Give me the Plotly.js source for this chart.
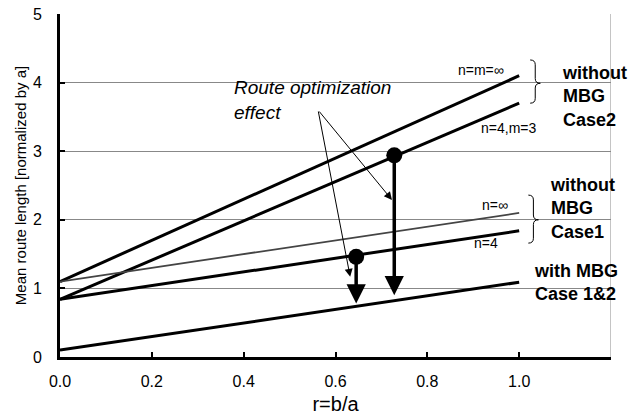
<!DOCTYPE html>
<html>
<head>
<meta charset="utf-8">
<script src="https://cdn.plot.ly/plotly-3.0.1.min.js"></script>
<style>html,body{margin:0;padding:0;background:#fff;}#chart{width:637px;height:417px;}</style>
</head>
<body>
<div id="chart"></div>
<script>
// ---- data ----
const rValues = [0, 0.2, 0.4, 0.6, 0.8, 1.0];
const case2Inf = [1.10, 1.70, 2.30, 2.90, 3.50, 4.10];   // n=m=∞
const case2N4M3 = [0.84, 1.41, 1.98, 2.56, 3.13, 3.70];  // n=4,m=3
const case1Inf = [1.10, 1.30, 1.50, 1.70, 1.90, 2.10];   // n=∞
const case1N4 = [0.84, 1.04, 1.24, 1.44, 1.64, 1.84];    // n=4
const withMBG = [0.10, 0.30, 0.50, 0.69, 0.89, 1.09];    // with MBG Case 1&2

const dotR = [0.728, 0.645];
const dotLen = [2.94, 1.46];
const dotTipLen = [0.90, 0.78];

const xTickVals = [0, 0.2, 0.4, 0.6, 0.8, 1.0, 1.2];
const xTickText = ["0.0", "0.2", "0.4", "0.6", "0.8", "1.0", ""];
const yTickVals = [0, 1, 2, 3, 4, 5];

const FONT = "Liberation Sans, Arial, sans-serif";

const lineStyle = {color: "#000", width: 3};
const traces = [
  {x: rValues, y: case2Inf, mode: "lines", line: lineStyle, name: "n=m=∞"},
  {x: rValues, y: case2N4M3, mode: "lines", line: lineStyle, name: "n=4,m=3"},
  {x: rValues, y: case1Inf, mode: "lines", line: {color: "#444", width: 1.8}, name: "n=∞"},
  {x: rValues, y: case1N4, mode: "lines", line: lineStyle, name: "n=4"},
  {x: rValues, y: withMBG, mode: "lines", line: lineStyle, name: "with MBG"},
  {x: dotR, y: dotLen, mode: "markers", marker: {color: "#000", size: 16}, name: "points"}
];

const annotations = [];
// thick arrows from the dots down to the with-MBG line
for (let i = 0; i < dotR.length; i++) {
  annotations.push({x: dotR[i], y: dotTipLen[i], ax: dotR[i], ay: dotLen[i],
    xref: "x", yref: "y", axref: "x", ayref: "y", text: "", showarrow: true,
    arrowhead: 2, arrowwidth: 3.5, arrowsize: 1.1, arrowcolor: "#000", standoff: 0, startstandoff: 0});
}
// thin arrows from the label
const labelTail = [0.562, 3.60];
annotations.push({x: 0.723, y: 2.29, ax: labelTail[0], ay: labelTail[1], xref: "x", yref: "y", axref: "x", ayref: "y",
  text: "", showarrow: true, arrowhead: 2, arrowwidth: 1, arrowsize: 1.6, arrowcolor: "#000", standoff: 0});
annotations.push({x: 0.632, y: 1.17, ax: labelTail[0], ay: labelTail[1], xref: "x", yref: "y", axref: "x", ayref: "y",
  text: "", showarrow: true, arrowhead: 2, arrowwidth: 1, arrowsize: 1.6, arrowcolor: "#000", standoff: 0});

annotations.push({x: 0.375, y: 3.74, xref: "x", yref: "y", xanchor: "left", yanchor: "middle", align: "left",
  text: "<i>Route optimization<br>effect</i>", showarrow: false, font: {family: FONT, size: 19, color: "#000"}});

const small = {family: FONT, size: 14, color: "#000"};
annotations.push({x: 0.917, y: 4.18, xref: "x", yref: "y", text: "n=m=∞", showarrow: false, font: small});
annotations.push({x: 0.976, y: 3.34, xref: "x", yref: "y", text: "n=4,m=3", showarrow: false, font: small});
annotations.push({x: 0.948, y: 2.21, xref: "x", yref: "y", text: "n=∞", showarrow: false, font: small});
annotations.push({x: 0.928, y: 1.66, xref: "x", yref: "y", text: "n=4", showarrow: false, font: small});

const bold = {family: FONT, size: 18, color: "#000", weight: "bold"};
annotations.push({x: 1.089, y: 3.80, xref: "x", yref: "y", xanchor: "left", yanchor: "middle", align: "left",
  text: "<b>without<br>MBG<br>Case2</b>", showarrow: false, font: bold});
annotations.push({x: 1.063, y: 2.17, xref: "x", yref: "y", xanchor: "left", yanchor: "middle", align: "left",
  text: "<b>without<br>MBG<br>Case1</b>", showarrow: false, font: bold});
annotations.push({x: 1.028, y: 1.09, xref: "x", yref: "y", xanchor: "left", yanchor: "middle", align: "left",
  text: "<b>with MBG<br>Case 1&amp;2</b>", showarrow: false, font: bold});

function brace(xl, xm, xt, yt, ym, yb, d) {
  return "M" + xl + "," + yt + " Q" + xm + "," + yt + " " + xm + "," + (yt - d) +
    " L" + xm + "," + (ym + d) + " Q" + xm + "," + ym + " " + xt + "," + ym +
    " Q" + xm + "," + ym + " " + xm + "," + (ym - d) +
    " L" + xm + "," + (yb + d) + " Q" + xm + "," + yb + " " + xl + "," + yb;
}

const shapes = [
  {type: "line", xref: "x", yref: "y", x0: 1.2, x1: 1.2, y0: 0, y1: 5, line: {color: "#888", width: 1}},
  {type: "path", xref: "x", yref: "y", path: brace(1.024, 1.035, 1.046, 4.33, 3.99, 3.70, 0.07), line: {color: "#000", width: 1}},
  {type: "path", xref: "x", yref: "y", path: brace(1.020, 1.031, 1.042, 2.36, 2.00, 1.66, 0.07), line: {color: "#000", width: 1}}
];

const layout = {
  width: 637, height: 417,
  margin: {l: 60, r: 26, t: 14, b: 60},
  paper_bgcolor: "#fff", plot_bgcolor: "#fff",
  showlegend: false,
  font: {family: FONT, color: "#000"},
  xaxis: {
    range: [0, 1.2], tickvals: xTickVals, ticktext: xTickText,
    ticks: "inside", ticklen: 5, tickwidth: 2, tickcolor: "#000",
    showline: true, linewidth: 3, linecolor: "#000", showgrid: false, zeroline: false,
    tickfont: {family: FONT, size: 16, color: "#000"}, ticklabelstandoff: 8,
    title: {text: "r=b/a", font: {family: FONT, size: 20, color: "#000"}, standoff: 8}
  },
  yaxis: {
    range: [0, 5], tickvals: yTickVals,
    ticks: "inside", ticklen: 5, tickwidth: 2, tickcolor: "#000",
    showline: true, linewidth: 3, linecolor: "#000",
    showgrid: true, gridcolor: "#888", gridwidth: 1, zeroline: false,
    tickfont: {family: FONT, size: 16, color: "#000"}, ticklabelstandoff: 12,
    title: {text: "Mean route length [normalized by a]", font: {family: FONT, size: 15, color: "#000"}, standoff: 3}
  },
  annotations: annotations,
  shapes: shapes
};

Plotly.newPlot("chart", traces, layout, {displayModeBar: false, staticPlot: true});
</script>
</body>
</html>
